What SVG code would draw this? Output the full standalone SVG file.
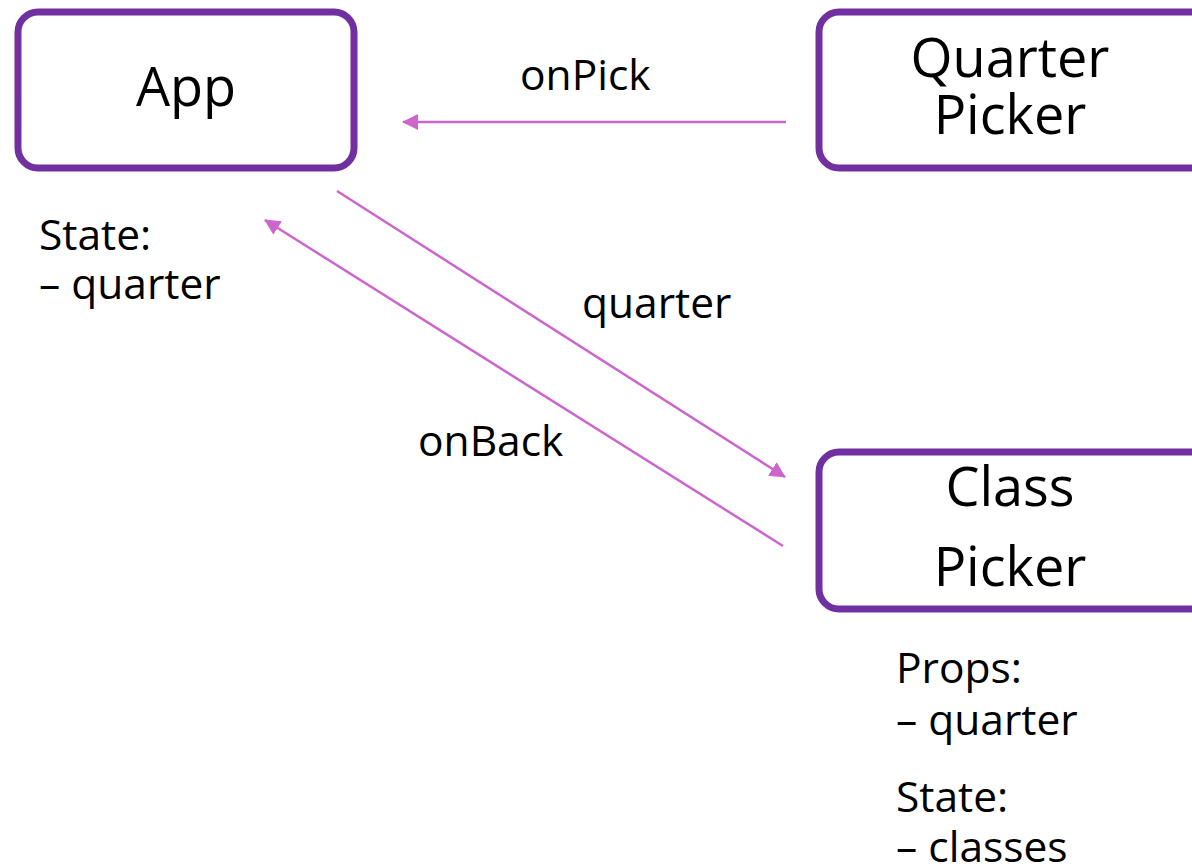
<svg xmlns="http://www.w3.org/2000/svg" width="1192" height="867" viewBox="0 0 1192 867">
<style>
.box{fill:#fff;stroke:#7030A0;stroke-width:7}
.t{font-family:"Open Sans","Noto Sans",sans-serif;fill:#000}
.big{font-size:54px;text-anchor:middle}
.lbl{font-size:42.5px}
.conn{stroke:#CC66CC;stroke-width:2.5;fill:none;marker-end:url(#ah)}
</style>
<defs>
<marker id="ah" viewBox="0 0 16 16" refX="15" refY="8" markerWidth="16" markerHeight="16" markerUnits="userSpaceOnUse" orient="auto">
<path d="M0,0 L16,8 L0,16 Z" fill="#CC66CC"/>
</marker>
</defs>
<rect width="1192" height="867" fill="#fff"/>
<g id="connectors">
<line class="conn" x1="786" y1="122" x2="403" y2="122"/>
<line class="conn" x1="337" y1="191" x2="785" y2="477"/>
<line class="conn" x1="783" y1="546" x2="265" y2="220"/>
<text class="t lbl" x="520" y="90">onPick</text>
<text class="t lbl" x="582" y="318">quarter</text>
<text class="t lbl" x="418" y="456">onBack</text>
</g>
<g id="app">
<rect class="box" x="18" y="12" width="336" height="156" rx="20"/>
<text class="t big" x="186" y="106">App</text>
<text class="t lbl" x="39" y="250">State:</text>
<text class="t lbl" x="39" y="299">– quarter</text>
</g>
<g id="quarter-picker">
<rect class="box" x="819" y="12" width="400" height="156" rx="20"/>
<text class="t big" x="1010" y="77">Quarter</text>
<text class="t big" x="1010" y="134">Picker</text>
</g>
<g id="class-picker">
<rect class="box" x="819" y="452" width="400" height="157" rx="20"/>
<text class="t big" x="1010" y="506">Class</text>
<text class="t big" x="1010" y="586">Picker</text>
<text class="t lbl" x="896" y="683">Props:</text>
<text class="t lbl" x="896" y="735">– quarter</text>
<text class="t lbl" x="896" y="812">State:</text>
<text class="t lbl" x="896" y="862">– classes</text>
</g>
</svg>
